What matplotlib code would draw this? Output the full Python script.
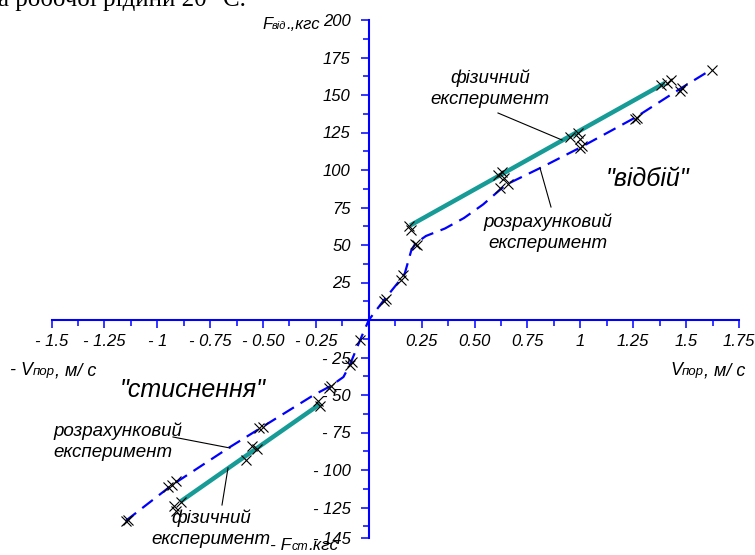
import matplotlib.pyplot as plt
from matplotlib.lines import Line2D

# physical experiment: fitted straight segments (teal)
phys_pos_x = [0.195, 1.40]
phys_pos_y = [63, 158]
phys_neg_x = [-0.23, -0.89]
phys_neg_y = [-56, -121]

# physical experiment: measured points
phys_pts_x = [0.19, 0.20, 0.61, 0.63, 0.64, 0.95, 0.99, 1.00, 1.38, 1.41, 1.43,
              -0.24, -0.23, -0.53, -0.55, -0.58, -0.89, -0.92, -0.91]
phys_pts_y = [63, 60, 97, 99, 95, 122, 125, 121, 157, 158, 160,
              -54, -57, -86, -84, -93, -121, -124, -127]

# calculated experiment: curve (blue dashed)
calc_x = [-1.15, -0.93, -0.66, -0.50, -0.26, -0.18, -0.12, -0.09, -0.04, 0.0,
          0.07, 0.15, 0.17, 0.20, 0.22, 0.27, 0.36, 0.45, 0.54, 0.63, 0.66, 0.82,
          1.00, 1.26, 1.47, 1.62]
calc_y = [-134, -110, -85, -71, -50, -44, -38, -30, -13, 0,
          13, 27, 31, 46, 51, 56, 61, 68, 77, 88, 91, 102,
          115, 135, 154, 167]

# calculated experiment: points
calc_pts_x = [0.07, 0.08, 0.15, 0.16, 0.22, 0.23, 0.62, 0.66, 1.00, 1.01, 1.26, 1.27, 1.47, 1.48, 1.62,
              -0.04, -0.09, -0.08, -0.18, -0.19, -0.50, -0.52, -0.91, -0.93, -0.95, -1.15, -1.14]
calc_pts_y = [13, 14, 27, 30, 51, 50, 88, 91, 115, 116, 134, 135, 153, 155, 167,
              -13, -30, -28, -44, -45, -71, -72, -107, -110, -111, -134, -133]

xticks = [-1.5, -1.25, -1, -0.75, -0.5, -0.25, 0.25, 0.5, 0.75, 1, 1.25, 1.5, 1.75]
xtick_labels = ["- 1.5", "- 1.25", "- 1", "- 0.75", "- 0.50", "- 0.25",
                "0.25", "0.50", "0.75", "1", "1.25", "1.5", "1.75"]
yticks = [-145, -125, -100, -75, -50, -25, 25, 50, 75, 100, 125, 150, 175, 200]
ytick_labels = ["- 145", "- 125", "- 100", "- 75", "- 50", "- 25",
                "25", "50", "75", "100", "125", "150", "175", "200"]

SANS = ["Liberation Sans Narrow", "Liberation Sans", "DejaVu Sans"]
BLUE = "#0000ff"
TEAL = "#169b96"
W, H = 755, 555

fig = plt.figure(figsize=(W / 100, H / 100), dpi=100)
ax = fig.add_axes([51.5 / W, (H - 537.5) / H, (739 - 51.5) / W, (537.5 - 20) / H])
ax.set_xlim(-1.5, 1.75)
ax.set_ylim(-145, 200)

for s in ["top", "right"]:
    ax.spines[s].set_visible(False)
for s in ["left", "bottom"]:
    ax.spines[s].set_position(("data", 0))
    ax.spines[s].set_color(BLUE)
    ax.spines[s].set_linewidth(1.5)

ax.set_xticks(xticks, xtick_labels)
ax.set_yticks(yticks, ytick_labels)
ax.set_xticks([v + 0.125 for v in [-1.5, -1.25, -1, -0.75, -0.5, -0.25, 0, 0.25, 0.5, 0.75, 1, 1.25, 1.5]],
              minor=True)
ax.set_yticks([-137.5, -112.5, -87.5, -62.5, -37.5, -12.5, 12.5, 37.5, 62.5, 87.5,
               112.5, 137.5, 162.5, 187.5], minor=True)
ax.tick_params(which="both", direction="out", color=BLUE, width=1.1)
ax.tick_params(which="major", length=6)
ax.tick_params(which="minor", length=4.5)
ax.tick_params(axis="x", pad=4)
ax.tick_params(axis="y", pad=7)
for lab in ax.get_xticklabels() + ax.get_yticklabels():
    lab.set_family(SANS)
    lab.set_style("italic")
    lab.set_fontsize(12)

ax.plot(phys_pos_x, phys_pos_y, color=TEAL, lw=3.2, solid_capstyle="butt", zorder=3)
ax.plot(phys_neg_x, phys_neg_y, color=TEAL, lw=3.2, solid_capstyle="butt", zorder=3)
ax.plot(calc_x, calc_y, color=BLUE, lw=1.6, dashes=(6, 3.5), zorder=3)
ax.plot(phys_pts_x, phys_pts_y, "x", color="black", ms=6.5, mew=0.8, zorder=4)
ax.plot(calc_pts_x, calc_pts_y, "x", color="black", ms=6.5, mew=0.8, zorder=4)


def fpos(px, py):
    return px / W, 1 - py / H


def note(px, py, s, size=13.5, ha="center"):
    x, y = fpos(px, py)
    fig.text(x, y, s, fontsize=size, family=SANS, style="italic", ha=ha, va="center",
             multialignment=ha, linespacing=1.3)


def leader(p1, p2):
    (x1, y1), (x2, y2) = fpos(*p1), fpos(*p2)
    fig.add_artist(Line2D([x1, x2], [y1, y2], transform=fig.transFigure, color="black", lw=0.8))


def pieces(px, py, parts):
    renderer = fig.canvas.get_renderer()
    x = px
    for s, size in parts:
        fx, fy = fpos(x, py)
        t = fig.text(fx, fy, s, fontsize=size, family=SANS, style="italic", ha="left", va="baseline")
        x += t.get_window_extent(renderer).width


note(490, 89, "фізичний\nексперимент")
leader((498, 113), (562, 140))
note(548, 233, "розрахунковий\nексперимент")
leader((540, 168), (551, 207))
note(648, 179, "\"відбій\"", size=18)
note(193, 390, "\"стиснення\"", size=18)
note(53, 442, "розрахунковий\nексперимент", ha="left")
leader((173, 437), (230, 448))
note(211, 529, "фізичний\nексперимент")
leader((228, 468), (222, 505))

pieces(262, 29, [("F", 12), ("від", 8), (".,кгс", 12)])
pieces(10, 375, [("- V", 13), ("пор", 9.5), (", м/ с", 13)])
pieces(670, 375, [("V", 13), ("пор", 9.5), (", м/ с", 13)])
pieces(270, 550, [("- F", 12.5), ("ст", 9), (".кгс", 12.5)])

fig.text(-2 / W, 1 - 6 / H, "а робочої рідини 20 °С.", fontsize=18,
         family=["Liberation Serif", "DejaVu Serif"], va="baseline", ha="left")

fig.savefig("out.png", dpi=100)
